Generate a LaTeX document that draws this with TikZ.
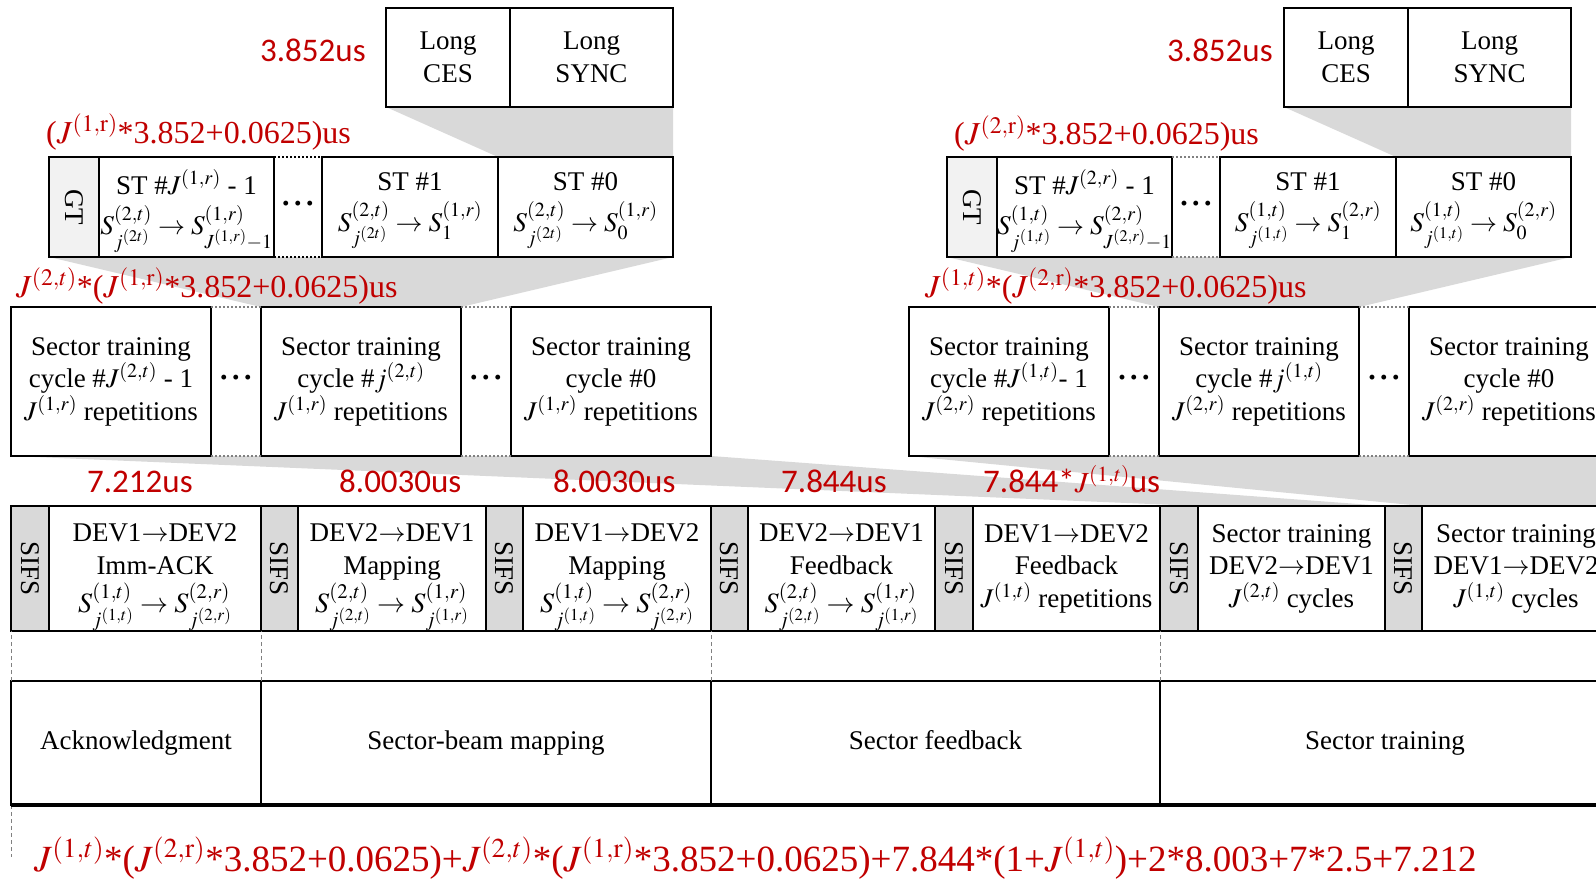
\documentclass[tikz,border=0pt]{standalone}
\usepackage{mathptmx}
\usepackage[no-math]{fontspec}
\setmainfont{Liberation Serif}
\newfontfamily\calibri{Carlito}
\usetikzlibrary{backgrounds}
\definecolor{labelred}{RGB}{192,0,0}
\definecolor{sifsgray}{RGB}{217,217,217}
\definecolor{gtgray}{RGB}{242,242,242}
\definecolor{zoomgray}{RGB}{217,217,217}
\tikzset{
  cell/.style={draw, line width=2pt, inner sep=0pt, outer sep=0pt, align=center,
    font=\fontsize{27}{32.5}\selectfont},
  longcell/.style={cell, minimum height=99pt},
  stcell/.style={cell, minimum height=100pt, minimum width=175pt, text depth=10pt},
  gtcell/.style={cell, fill=gtgray, minimum height=100pt, minimum width=50pt},
  cyclecell/.style={cell, minimum height=149pt, minimum width=200pt},
  sifs/.style={cell, fill=sifsgray, minimum height=125pt, minimum width=37.5pt},
  phase/.style={cell, minimum height=125pt},
  stage/.style={cell, minimum height=124pt, text height=19pt, text depth=7pt},
  gapdots/.style={font=\fontsize{30}{30}\selectfont\bfseries},
  time/.style={text=labelred, inner sep=0pt, anchor=base west,
    font=\calibri\fontsize{33}{33}\selectfont},
  formula/.style={text=labelred, inner sep=0pt, anchor=base west,
    font=\fontsize{32}{32}\selectfont},
  gapline/.style={gray, dotted, line width=2pt},
  guide/.style={gray, dash pattern=on 4pt off 3pt, line width=1pt}
}
\newcommand{\dotrun}{·\kern2pt·\kern2pt·}
\newcommand{\beamline}[1]{\smash{\fontsize{28}{32.5}\selectfont$#1$}}
\begin{document}
\begin{tikzpicture}[x=1pt,y=-1pt]
      \useasboundingbox (0,0) rectangle (1596,880);

      \node[longcell, minimum width=124pt] (ces1) at (448,57.5) {Long\\CES};
      \node[longcell, minimum width=163pt] (sync1) at (591.5,57.5) {Long\\SYNC};
      \node[longcell, minimum width=124pt] (ces2) at (1346,57.5) {Long\\CES};
      \node[longcell, minimum width=163pt] (sync2) at (1489.5,57.5) {Long\\SYNC};
      \node[time] (sym1) at (260,62) {3.852us};
      \node[time] (sym2) at (1167,62) {3.852us};

      \node[gtcell] (gt1) at (74,207) {\rotatebox{-90}{GT}};
      \node[stcell] (stj1) at (186.5,207) {ST \#$J^{(1,r)}$ - 1\\[8pt]\smash{$S^{(2,t)}_{j^{(2t)}}\rightarrow S^{(1,r)}_{J^{(1,r)}-1}$}};
      \node[gapdots] (stdots1) at (298,207) {\dotrun};
      \node[stcell, minimum width=176pt] (st11) at (410,207) {ST \#1\\[8pt]\smash{$S^{(2,t)}_{j^{(2t)}}\rightarrow S^{(1,r)}_{1}$}};
      \node[stcell] (st01) at (585.5,207) {ST \#0\\[8pt]\smash{$S^{(2,t)}_{j^{(2t)}}\rightarrow S^{(1,r)}_{0}$}};
      \node[formula] (stlen1) at (46,143) {($J^{(1,\mathrm{r})}$*3.852+0.0625)us};

      \node[gtcell] (gt2) at (972,207) {\rotatebox{-90}{GT}};
      \node[stcell] (stj2) at (1084.5,207) {ST \#$J^{(2,r)}$ - 1\\[8pt]\smash{$S^{(1,t)}_{j^{(1,t)}}\rightarrow S^{(2,r)}_{J^{(2,r)}-1}$}};
      \node[gapdots] (stdots2) at (1196,207) {\dotrun};
      \node[stcell, minimum width=176pt] (st12) at (1308,207) {ST \#1\\[8pt]\smash{$S^{(1,t)}_{j^{(1,t)}}\rightarrow S^{(2,r)}_{1}$}};
      \node[stcell] (st02) at (1483.5,207) {ST \#0\\[8pt]\smash{$S^{(1,t)}_{j^{(1,t)}}\rightarrow S^{(2,r)}_{0}$}};
      \node[formula] (stlen2) at (954,145) {($J^{(2,\mathrm{r})}$*3.852+0.0625)us};

      \node[cyclecell] (cyc1) at (111,381.5) {Sector training\\cycle \#$J^{(2,t)}$ - 1\\$J^{(1,r)}$ repetitions};
      \node[gapdots] (cycdots1) at (236,381.5) {\dotrun};
      \node[cyclecell] (cyc2) at (361,381.5) {Sector training\\cycle \#$j^{(2,t)}$\\$J^{(1,r)}$ repetitions};
      \node[gapdots] (cycdots2) at (486,381.5) {\dotrun};
      \node[cyclecell] (cyc3) at (611,381.5) {Sector training\\cycle \#0\\$J^{(1,r)}$ repetitions};
      \node[formula] (cyclen1) at (16,297) {$J^{(2,t)}$*($J^{(1,\mathrm{r})}$*3.852+0.0625)us};

      \node[cyclecell] (cyc4) at (1009,381.5) {Sector training\\cycle \#$J^{(1,t)}$- 1\\$J^{(2,r)}$ repetitions};
      \node[gapdots] (cycdots3) at (1134,381.5) {\dotrun};
      \node[cyclecell] (cyc5) at (1259,381.5) {Sector training\\cycle \#$j^{(1,t)}$\\$J^{(2,r)}$ repetitions};
      \node[gapdots] (cycdots4) at (1384,381.5) {\dotrun};
      \node[cyclecell] (cyc6) at (1509,381.5) {Sector training\\cycle \#0\\$J^{(2,r)}$ repetitions};
      \node[formula] (cyclen2) at (925,297) {$J^{(1,t)}$*($J^{(2,\mathrm{r})}$*3.852+0.0625)us};

      \node[sifs] (sifs1) at (30,568.5) {\rotatebox{-90}{SIFS}};
      \node[phase, minimum width=212pt] (ack) at (155,568.5) {DEV1$\rightarrow$DEV2\\Imm-ACK\\[6pt]\beamline{S^{(1,t)}_{j^{(1,t)}}\rightarrow S^{(2,r)}_{j^{(2,r)}}}};
      \node[sifs] (sifs2) at (279.5,568.5) {\rotatebox{-90}{SIFS}};
      \node[phase, minimum width=188pt] (map21) at (392,568.5) {DEV2$\rightarrow$DEV1\\Mapping\\[6pt]\beamline{S^{(2,t)}_{j^{(2,t)}}\rightarrow S^{(1,r)}_{j^{(1,r)}}}};
      \node[sifs] (sifs3) at (504.5,568.5) {\rotatebox{-90}{SIFS}};
      \node[phase, minimum width=188pt] (map12) at (617,568.5) {DEV1$\rightarrow$DEV2\\Mapping\\[6pt]\beamline{S^{(1,t)}_{j^{(1,t)}}\rightarrow S^{(2,r)}_{j^{(2,r)}}}};
      \node[sifs] (sifs4) at (729.5,568.5) {\rotatebox{-90}{SIFS}};
      \node[phase, minimum width=187pt] (fb21) at (841.5,568.5) {DEV2$\rightarrow$DEV1\\Feedback\\[6pt]\beamline{S^{(2,t)}_{j^{(2,t)}}\rightarrow S^{(1,r)}_{j^{(1,r)}}}};
      \node[sifs] (sifs5) at (954,568.5) {\rotatebox{-90}{SIFS}};
      \node[phase, minimum width=187pt] (fb12) at (1066.5,568.5) {DEV1$\rightarrow$DEV2\\Feedback\\$J^{(1,t)}$ repetitions};
      \node[sifs] (sifs6) at (1179,568.5) {\rotatebox{-90}{SIFS}};
      \node[phase, minimum width=187pt] (tr21) at (1291.5,568.5) {Sector training\\DEV2$\rightarrow$DEV1\\$J^{(2,t)}$ cycles};
      \node[sifs] (sifs7) at (1403.5,568.5) {\rotatebox{-90}{SIFS}};
      \node[phase, minimum width=188pt] (tr12) at (1516,568.5) {Sector training\\DEV1$\rightarrow$DEV2\\$J^{(1,t)}$ cycles};

      \node[time] (tack) at (87,492) {7.212us};
      \node[time] (tmap21) at (339,492) {8.0030us};
      \node[time] (tmap12) at (553,492) {8.0030us};
      \node[time] (tfb21) at (781,492) {7.844us};
      \node[time] (tfb12) at (983,492) {7.844*{\fontsize{29}{29}\selectfont$J^{(1,t)}$}us};

      \node[stage, minimum width=250pt] (ackstage) at (136,743) {Acknowledgment};
      \node[stage, minimum width=450pt] (mapstage) at (486,743) {Sector-beam mapping};
      \node[stage, minimum width=449pt] (fbstage) at (935.5,743) {Sector feedback};
      \node[stage, minimum width=450pt] (trstage) at (1385,743) {Sector training};
      \coordinate (tail) at (11,857);
      \node[formula, font=\fontsize{37}{37}\selectfont] (total) at (34,871) {$J^{(1,t)}$*($J^{(2,\mathrm{r})}$*3.852+0.0625)+$J^{(2,t)}$*($J^{(1,\mathrm{r})}$*3.852+0.0625)+7.844*(1+$J^{(1,t)}$)+2*8.003+7*2.5+7.212};

      \begin{scope}[on background layer]
        \fill[zoomgray] (ces1.south west) -- (sync1.south east) -- (st01.north east) -- (st01.north west) -- cycle;
        \fill[zoomgray] (ces2.south west) -- (sync2.south east) -- (st02.north east) -- (st02.north west) -- cycle;
        \fill[zoomgray] (gt1.south west) -- (st01.south east) -- (cyc2.north east) -- (cyc2.north west) -- cycle;
        \fill[zoomgray] (gt2.south west) -- (st02.south east) -- (cyc5.north east) -- (cyc5.north west) -- cycle;
        \fill[zoomgray] (cyc1.south west) -- (cyc3.south east) -- (tr21.north east) -- (tr21.north west) -- cycle;
        \fill[zoomgray] (cyc4.south west) -- (cyc6.south east) -- (tr12.north east) -- (tr12.north west) -- cycle;
      \end{scope}

      \begin{scope}[-]
        \draw[gapline, black] (stj1.north east) -- (st11.north west);
        \draw[gapline, black] (stj1.south east) -- (st11.south west);
        \draw[gapline] (stj2.north east) -- (st12.north west);
        \draw[gapline] (stj2.south east) -- (st12.south west);
        \draw[gapline] (cyc1.north east) -- (cyc2.north west);
        \draw[gapline] (cyc1.south east) -- (cyc2.south west);
        \draw[gapline] (cyc2.north east) -- (cyc3.north west);
        \draw[gapline] (cyc2.south east) -- (cyc3.south west);
        \draw[gapline] (cyc4.north east) -- (cyc5.north west);
        \draw[gapline] (cyc4.south east) -- (cyc5.south west);
        \draw[gapline] (cyc5.north east) -- (cyc6.north west);
        \draw[gapline] (cyc5.south east) -- (cyc6.south west);
        \draw[guide] (ackstage.north west) -- (ackstage.north west |- ack.south);
        \draw[guide] (mapstage.north west) -- (mapstage.north west |- ack.south);
        \draw[guide] (fbstage.north west) -- (fbstage.north west |- ack.south);
        \draw[guide] (trstage.north west) -- (trstage.north west |- ack.south);
        \draw[guide] (ackstage.south west) -- (tail);
        \draw[line width=3.5pt] (ackstage.south west) -- (trstage.south east);
      \end{scope}
    \end{tikzpicture}
\end{document}
